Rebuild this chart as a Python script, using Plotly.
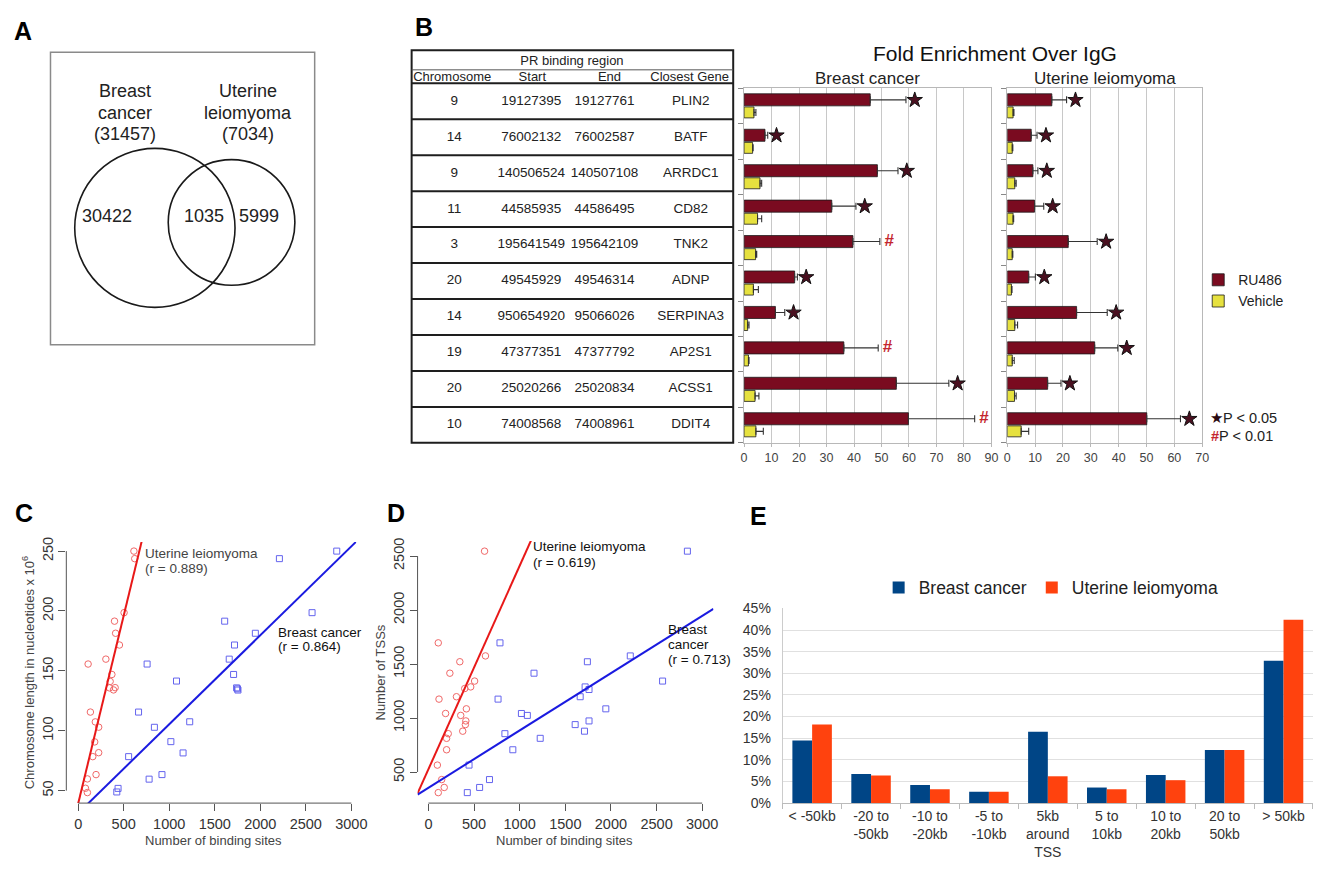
import plotly.graph_objects as go

W, H = 1324, 870
FONT = "Liberation Sans"

# ---------------- data ----------------
# A: Venn
venn_names = ["Breast cancer", "Uterine leiomyoma"]
venn_totals = [31457, 7034]
venn_only = [30422, 5999]
venn_overlap = 1035

# B: table
tbl_group = "PR binding region"
tbl_headers = ["Chromosome", "Start", "End", "Closest Gene"]
tbl_chrom = ["9", "14", "9", "11", "3", "20", "14", "19", "20", "10"]
tbl_start = ["19127395", "76002132", "140506524", "44585935", "195641549",
             "49545929", "950654920", "47377351", "25020266", "74008568"]
tbl_end = ["19127761", "76002587", "140507108", "44586495", "195642109",
           "49546314", "95066026", "47377792", "25020834", "74008961"]
genes = ["PLIN2", "BATF", "ARRDC1", "CD82", "TNK2",
         "ADNP", "SERPINA3", "AP2S1", "ACSS1", "DDIT4"]

# B: fold enrichment over IgG
bc_ru = [45.9, 7.6, 48.5, 31.9, 39.6, 18.4, 11.4, 36.3, 55.4, 59.8]
bc_ru_err = [13.0, 1.0, 7.5, 8.8, 9.8, 1.0, 3.4, 12.5, 19.1, 24.1]
bc_veh = [3.6, 3.1, 5.8, 4.9, 4.2, 3.4, 1.3, 1.6, 4.0, 4.3]
bc_veh_err = [0.7, 0.2, 0.6, 1.5, 0.4, 1.8, 0.5, 0.2, 1.4, 2.7]
bc_sig = ["*", "*", "*", "*", "#", "*", "*", "#", "*", "#"]

ul_ru = [16.0, 8.6, 9.2, 9.8, 21.9, 7.7, 24.9, 31.4, 14.5, 50.1]
ul_ru_err = [5.3, 2.1, 1.8, 3.3, 10.4, 2.4, 11.0, 8.3, 4.8, 12.1]
ul_veh = [2.1, 1.8, 2.7, 2.1, 1.8, 1.5, 2.7, 1.8, 2.6, 5.0]
ul_veh_err = [0.3, 0.2, 0.5, 0.2, 0.2, 0.2, 1.0, 0.7, 0.6, 2.7]
ul_sig = ["*"] * 10

bar_titles = ["Breast cancer", "Uterine leiomyoma"]
bar_ticks_bc = [0, 10, 20, 30, 40, 50, 60, 70, 80, 90]
bar_ticks_ul = [0, 10, 20, 30, 40, 50, 60, 70]
p_legend = ["P &lt; 0.05", "P &lt; 0.01"]

# C: chromosome length vs binding sites
c_ut_x = [612, 621, 504, 399, 411, 453, 304, 109, 370, 351, 344, 406, 388,
          134, 188, 225, 181, 160, 225, 196, 101, 80, 101]
c_ut_y = [250, 243.7, 198.6, 191.5, 181.4, 171.6, 159.8, 155.7, 147, 141.2, 135.8, 136, 134.1,
          115.6, 107.4, 103, 90.7, 78.4, 81.7, 63.4, 59.8, 52, 48.4]
c_bc_x = [2840, 2210, 2569, 1609, 1946, 1717, 1659, 757, 1707, 1080, 1740, 1750, 1755,
          663, 1225, 837, 1018, 1152, 554, 920, 779, 438, 424]
c_bc_y = [250, 243.7, 198.6, 191.5, 181.4, 171.6, 159.8, 155.7, 147, 141.5, 135.8, 135, 134,
          115.6, 107.5, 102.9, 90.9, 81.5, 78.4, 63.4, 59.6, 51.9, 48.9]
c_ut_fit = (39.3, 0.3137)    # intercept, slope
c_bc_fit = (31.2, 0.07423)
c_r = ["0.889", "0.864"]
c_xticks = [0, 500, 1000, 1500, 2000, 2500, 3000]
c_yticks = [50, 100, 150, 200, 250]

# D: number of TSSs vs binding sites
d_ut_x = [615, 108, 625, 344, 235, 506, 463, 398, 116, 307, 188, 354, 416,
          410, 405, 376, 217, 199, 199, 98, 145, 173, 108]
d_ut_y = [2545, 1696, 1575, 1521, 1415, 1342, 1288, 1273, 1175, 1197, 1042, 1024, 1085,
          973, 939, 878, 855, 812, 706, 564, 430, 357, 309]
d_bc_x = [2838, 784, 1742, 2212, 1157, 2566, 1717, 1760, 1663, 763, 1944, 1019, 1084,
          1760, 1608, 1710, 838, 1225, 925, 445, 669, 561, 426]
d_bc_y = [2545, 1696, 1521, 1575, 1415, 1342, 1288, 1264, 1197, 1175, 1085, 1042, 1024,
          973, 939, 878, 855, 812, 706, 564, 430, 357, 309]
d_ut_fit = (526, 1.884)
d_bc_fit = (354, 0.5307)
d_r = ["0.619", "0.713"]
d_xticks = [0, 500, 1000, 1500, 2000, 2500, 3000]
d_yticks = [500, 1000, 1500, 2000, 2500]

# E: distance to TSS distribution
e_cats = ["&lt; -50kb", "-20 to<br>-50kb", "-10 to<br>-20kb", "-5 to<br>-10kb",
          "5kb<br>around<br>TSS", "5 to<br>10kb", "10 to<br>20kb", "20 to<br>50kb", "&gt; 50kb"]
e_bc = [14.5, 6.7, 4.2, 2.6, 16.5, 3.6, 6.5, 12.3, 32.9]
e_ut = [18.2, 6.4, 3.2, 2.6, 6.2, 3.2, 5.3, 12.3, 42.4]
e_yticks = [0, 5, 10, 15, 20, 25, 30, 35, 40, 45]

# ---------------- styles ----------------
RU_COL = "#7A0B20"
VEH_COL = "#E6E13F"
STAR_COL = "#4A1020"
HASH_COL = "#C4262E"
RED_PT = "#F06868"
RED_LN = "#E81818"
BLUE_PT = "#6464EE"
BLUE_LN = "#1A1AE0"
E_BLUE = "#004586"
E_ORANGE = "#FF420E"


def PX(p):
    return p / W


def PY(p):
    return 1 - p / H


fig = go.Figure()
shapes = []
annotations = []


def ann(text, x, y, size, color="#222", xanchor="center", yanchor="middle",
        xref="paper", yref="paper", angle=0, weight="normal"):
    annotations.append(dict(text=text, x=x, y=y, xref=xref, yref=yref, showarrow=False,
                            xanchor=xanchor, yanchor=yanchor, textangle=angle,
                            font=dict(family=FONT, size=size, color=color, weight=weight)))


def pann(text, px, py, size, **kw):
    ann(text, PX(px), PY(py), size, **kw)


layout = dict(width=W, height=H, margin=dict(l=0, r=0, t=0, b=0),
              paper_bgcolor="white", plot_bgcolor="rgba(0,0,0,0)",
              barmode="overlay", font=dict(family=FONT, color="#222"))


def hidden(domain, rng, anchor):
    return dict(domain=domain, range=rng, visible=False, fixedrange=True,
                showgrid=False, zeroline=False, anchor=anchor)


# ---------------- A: Venn ----------------
layout["xaxis"] = hidden([0, PX(400)], [0, 400], "y")
layout["yaxis"] = hidden([PY(360), 1], [360, 0], "x")
shapes.append(dict(type="rect", xref="x", yref="y", x0=48, x1=315, y0=45, y1=343,
                   line=dict(color="#8a8a8a", width=1.5)))
venn_circles = [(153.5, 224, 81), (231, 218.5, 64)]
for cx, cy, r in venn_circles:
    shapes.append(dict(type="circle", xref="x", yref="y", x0=cx - r, x1=cx + r,
                       y0=cy - r, y1=cy + r, line=dict(color="#1a1a1a", width=1.6)))
label_x = [123, 248]
for name, tot, lx in zip(venn_names, venn_totals, label_x):
    lines = name.split() + ["(%d)" % tot]
    for ln, ly in zip(lines, [85, 107, 128]):
        ann(ln, lx, ly, 18, xref="x", yref="y")
for val, vx in zip([venn_only[0], venn_overlap, venn_only[1]], [105, 203, 259]):
    ann(str(val), vx, 212, 18, xref="x", yref="y")

# ---------------- B: table ----------------
layout["xaxis2"] = hidden([PX(400), PX(750)], [400, 750], "y2")
layout["yaxis2"] = hidden([PY(460), PY(30)], [460, 30], "x2")
T_L, T_R, T_T, T_B = 413, 738, 43, 443
HDR_B = 76.7
ROW_H = (T_B - HDR_B) / len(genes)
row_centers = [HDR_B + ROW_H * (i + 0.5) for i in range(len(genes))]
col_x = [456, 534, 608, 695]
for cx, col in zip(col_x, [tbl_chrom, tbl_start, tbl_end, genes]):
    fig.add_trace(go.Scatter(x=[cx] * len(col), y=row_centers, text=col, mode="text",
                             textfont=dict(family=FONT, size=13.5, color="#222"),
                             xaxis="x2", yaxis="y2", showlegend=False, hoverinfo="skip"))
fig.add_trace(go.Scatter(x=[575] + [454, 535, 613, 694], y=[55] + [71.5] * 4,
                         text=[tbl_group] + tbl_headers, mode="text",
                         textfont=dict(family=FONT, size=13, color="#222"),
                         xaxis="x2", yaxis="y2", showlegend=False, hoverinfo="skip"))
shapes.append(dict(type="rect", xref="x2", yref="y2", x0=T_L, x1=T_R, y0=T_T, y1=T_B,
                   line=dict(color="#1e1e1e", width=2)))
shapes.append(dict(type="line", xref="x2", yref="y2", x0=T_L, x1=T_R, y0=63, y1=63,
                   line=dict(color="#555", width=1)))
for k in range(len(genes)):
    yy = HDR_B + ROW_H * k
    shapes.append(dict(type="line", xref="x2", yref="y2", x0=T_L, x1=T_R, y0=yy, y1=yy,
                       line=dict(color="#1e1e1e", width=2)))

# ---------------- B: bars ----------------
rows = list(range(len(genes)))
bar_ydom = [PY(443), PY(82)]


def bar_axes(idx, xdom, xmax, ticks):
    layout["xaxis%d" % idx] = dict(domain=xdom, range=[0, xmax], anchor="y%d" % idx,
                                   tickvals=ticks, showgrid=True, gridcolor="#c8c8c8",
                                   gridwidth=1, zeroline=False, showline=True, mirror=True,
                                   linecolor="#b8b8b8", ticks="outside", ticklen=3,
                                   tickcolor="#b8b8b8",
                                   tickfont=dict(family=FONT, size=12.5, color="#444"),
                                   fixedrange=True)
    layout["yaxis%d" % idx] = dict(domain=bar_ydom, range=[len(genes) - 0.5, -0.5],
                                   anchor="x%d" % idx, type="linear",
                                   tickvals=[k - 0.5 for k in range(len(genes) + 1)],
                                   showticklabels=False, ticks="outside", ticklen=5,
                                   tickcolor="#888", showgrid=False, zeroline=False,
                                   showline=True, mirror=True, linecolor="#b8b8b8",
                                   fixedrange=True)


bar_axes(3, [PX(749), PX(999)], 90, bar_ticks_bc)
bar_axes(4, [PX(1015), PX(1212)], 70, bar_ticks_ul)

for idx, ru, rue, veh, vehe, sig in [(3, bc_ru, bc_ru_err, bc_veh, bc_veh_err, bc_sig),
                                     (4, ul_ru, ul_ru_err, ul_veh, ul_veh_err, ul_sig)]:
    xa, ya = "x%d" % idx, "y%d" % idx
    fig.add_trace(go.Bar(orientation="h", x=ru, y=rows, width=0.34, offset=-0.35,
                         marker=dict(color=RU_COL, line=dict(color="#1a1a1a", width=0.8)),
                         error_x=dict(type="data", symmetric=False, array=rue,
                                      arrayminus=[0] * len(ru), color="#333",
                                      thickness=1.1, width=3.5),
                         name="RU486", legend="legend", showlegend=(idx == 3),
                         xaxis=xa, yaxis=ya, hoverinfo="skip"))
    fig.add_trace(go.Bar(orientation="h", x=veh, y=rows, width=0.31, offset=0.02,
                         marker=dict(color=VEH_COL, line=dict(color="#1a1a1a", width=0.8)),
                         error_x=dict(type="data", symmetric=False, array=vehe,
                                      arrayminus=[0] * len(veh), color="#333",
                                      thickness=1.1, width=3.5),
                         name="Vehicle", legend="legend", showlegend=(idx == 3),
                         xaxis=xa, yaxis=ya, hoverinfo="skip"))
    sx = [ru[i] + rue[i] + 3.2 for i in rows if sig[i] == "*"]
    sy = [i - 0.175 for i in rows if sig[i] == "*"]
    fig.add_trace(go.Scatter(x=sx, y=sy, mode="markers",
                             marker=dict(symbol="star", size=11.5, color=STAR_COL,
                                         line=dict(color="#111", width=1)),
                             xaxis=xa, yaxis=ya, showlegend=False, hoverinfo="skip",
                             cliponaxis=False))
    hx = [ru[i] + rue[i] + 3.4 for i in rows if sig[i] == "#"]
    hy = [i - 0.175 for i in rows if sig[i] == "#"]
    if hx:
        fig.add_trace(go.Scatter(x=hx, y=hy, mode="text", text=["#"] * len(hx),
                                 textfont=dict(family=FONT, size=17, color=HASH_COL,
                                               weight="bold"),
                                 xaxis=xa, yaxis=ya, showlegend=False, hoverinfo="skip",
                                 cliponaxis=False))

pann("Fold Enrichment Over IgG", 1003, 46, 21, color="#111")
pann(bar_titles[0], 874, 72, 17, color="#222")
pann(bar_titles[1], 1113.5, 72, 17, color="#222")
pann("<span style='color:#2a0a12'>★</span>" + p_legend[0], 1218, 418, 14.5, xanchor="left")
pann("<span style='color:%s'><b>#</b></span>" % HASH_COL + p_legend[1], 1219, 436, 14.5,
     xanchor="left")

layout["legend"] = dict(x=PX(1208), y=PY(261), xanchor="left", yanchor="top",
                        font=dict(family=FONT, size=14, color="#222"),
                        bgcolor="rgba(0,0,0,0)", tracegroupgap=0, itemwidth=30)

# ---------------- C & D: scatter ----------------


def scatter_panel(idx, xdom, ydom, xr, yr, xticks, yticks, ut_x, ut_y, bc_x, bc_y,
                  ut_fit, bc_fit):
    xa, ya = "x%d" % idx, "y%d" % idx
    common = dict(showgrid=False, zeroline=False, showline=False, ticks="outside",
                  ticklen=7, tickwidth=1, tickcolor="#555", fixedrange=True,
                  tickfont=dict(family=FONT, size=14.5, color="#333"))
    layout["xaxis%d" % idx] = dict(domain=xdom, range=xr, anchor=ya, tickvals=xticks, **common)
    layout["yaxis%d" % idx] = dict(domain=ydom, range=yr, anchor=xa, tickvals=yticks,
                                   tickangle=-90, **common)
    shapes.append(dict(type="line", xref=xa, yref=ya + " domain", x0=xticks[0], x1=xticks[-1],
                       y0=0, y1=0, line=dict(color="#555", width=1)))
    shapes.append(dict(type="line", xref=xa + " domain", yref=ya, x0=0, x1=0,
                       y0=yticks[0], y1=yticks[-1], line=dict(color="#555", width=1)))
    fig.add_trace(go.Scatter(x=ut_x, y=ut_y, mode="markers",
                             marker=dict(symbol="circle-open", size=6.5, color=RED_PT,
                                         line=dict(width=1)),
                             xaxis=xa, yaxis=ya, showlegend=False, hoverinfo="skip"))
    fig.add_trace(go.Scatter(x=bc_x, y=bc_y, mode="markers",
                             marker=dict(symbol="square-open", size=6, color=BLUE_PT,
                                         line=dict(width=1)),
                             xaxis=xa, yaxis=ya, showlegend=False, hoverinfo="skip"))
    for (a, b), col in [(ut_fit, RED_LN), (bc_fit, BLUE_LN)]:
        lx = [xr[0], xr[1]]
        fig.add_trace(go.Scatter(x=lx, y=[a + b * v for v in lx], mode="lines",
                                 line=dict(color=col, width=2),
                                 xaxis=xa, yaxis=ya, showlegend=False, hoverinfo="skip"))


scatter_panel(5, [PX(64), PX(357)], [PY(810), PY(544)], [-130.4, 3054], [39.6, 257.6],
              c_xticks, c_yticks, c_ut_x, c_ut_y, c_bc_x, c_bc_y, c_ut_fit, c_bc_fit)
scatter_panel(6, [PX(419), PX(718)], [PY(810), PY(543)], [-119, 3123], [212, 2639],
              d_xticks, d_yticks, d_ut_x, d_ut_y, d_bc_x, d_bc_y, d_ut_fit, d_bc_fit)

pann("Uterine leiomyoma", 142, 556, 13.5, color="#444", xanchor="left")
pann("(r = %s)" % c_r[0], 142, 570.5, 13.5, color="#444", xanchor="left")
pann("Breast cancer", 276, 636, 13.5, color="#111", xanchor="left")
pann("(r = %s)" % c_r[1], 276, 650.5, 13.5, color="#111", xanchor="left")
pann("Uterine leiomyoma", 534, 549, 13.5, color="#111", xanchor="left")
pann("(r = %s)" % d_r[0], 534, 565, 13.5, color="#111", xanchor="left")
pann("Breast", 670, 633, 13.5, color="#111", xanchor="left")
pann("cancer", 670, 648.5, 13.5, color="#111", xanchor="left")
pann("(r = %s)" % d_r[1], 670, 664, 13.5, color="#111", xanchor="left")

pann("Number of binding sites", 213, 848, 13, color="#444")
pann("Number of binding sites", 568, 848, 13, color="#444")
pann("Chromosome length in nucleotides x 10<sup>6</sup>", 25, 677, 13, color="#444", angle=-90)
pann("Number of TSSs", 382, 677, 13, color="#444", angle=-90)

# ---------------- E: bars ----------------
layout["xaxis7"] = dict(domain=[PX(788), PX(1324)], anchor="y7", type="category",
                        range=[-0.5, len(e_cats) - 0.5], showline=True, linecolor="#bbb",
                        ticks="outside", tickson="boundaries", ticklen=5, tickcolor="#bbb",
                        showgrid=False, zeroline=False, fixedrange=True,
                        tickfont=dict(family=FONT, size=14, color="#333"))
layout["yaxis7"] = dict(domain=[PY(810), PY(611.7)], anchor="x7", range=[0, 45],
                        tickmode="array", tickvals=e_yticks,
                        ticktext=["%d%%" % v for v in e_yticks],
                        showgrid=True, gridcolor="#e0e0e0",
                        showline=True, linecolor="#ccc", zeroline=False, ticks="",
                        ticklabelstandoff=8, fixedrange=True,
                        tickfont=dict(family=FONT, size=14, color="#333"))
fig.add_trace(go.Bar(x=e_cats, y=e_bc, width=0.335, offset=-0.335, name="Breast cancer",
                     marker=dict(color=E_BLUE, line=dict(width=0)), legend="legend2",
                     xaxis="x7", yaxis="y7", hoverinfo="skip"))
fig.add_trace(go.Bar(x=e_cats, y=e_ut, width=0.335, offset=0, name="Uterine leiomyoma",
                     marker=dict(color=E_ORANGE, line=dict(width=0)), legend="legend2",
                     xaxis="x7", yaxis="y7", hoverinfo="skip"))
layout["legend2"] = dict(orientation="h", x=PX(885), y=PY(590.5), xanchor="left",
                         yanchor="middle", font=dict(family=FONT, size=17.5, color="#222"),
                         bgcolor="rgba(0,0,0,0)", itemwidth=30)

# ---------------- panel letters ----------------
for letter, lx, ly in [("A", 20, 23), ("B", 426, 19), ("C", 21, 514), ("D", 397, 514),
                       ("E", 764, 518)]:
    pann(letter, lx, ly, 25, color="#000", weight="bold")

layout["shapes"] = shapes
layout["annotations"] = annotations
fig.update_layout(**layout)
fig.write_html("out.html")
